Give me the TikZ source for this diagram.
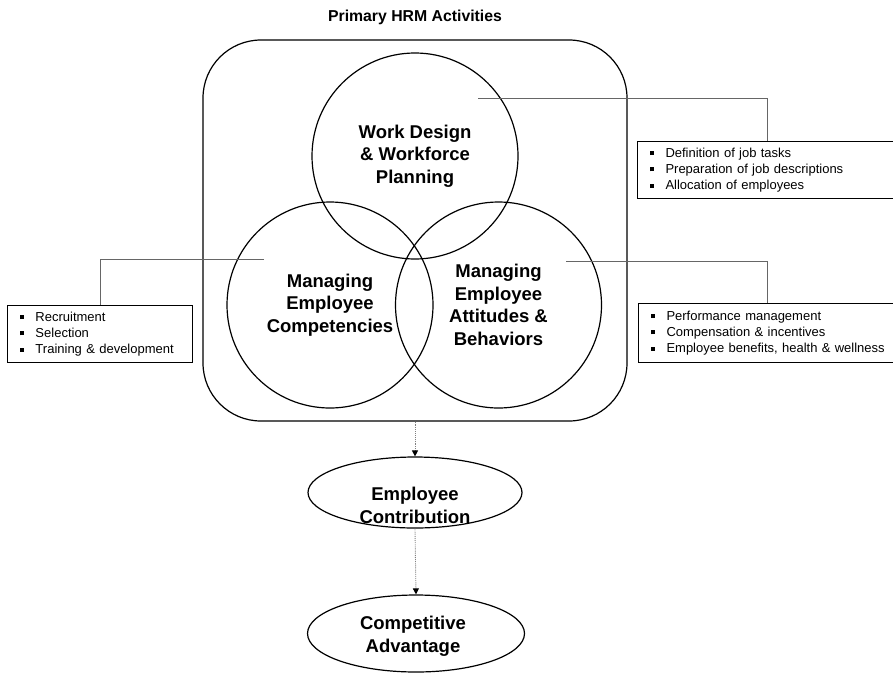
\documentclass[tikz,border=0pt]{standalone}
\usepackage{fontspec}
\setmainfont{Liberation Sans}
\usetikzlibrary{arrows.meta,shapes.geometric}
\newcommand{\sqb}{\makebox[16pt][l]{\rule[2pt]{4pt}{4pt}}}
\begin{document}
\begin{tikzpicture}[x=1pt,y=-1pt,
  circ/.style={circle,draw,line width=1.2pt,minimum size=206pt,inner sep=0pt,align=center,font=\fontsize{18.5}{22.5}\selectfont\bfseries},
  conn/.style={draw=gray!80!black,line width=0.8pt},
  listbox/.style={draw,line width=1pt,anchor=north west,inner xsep=12pt,inner ysep=0pt,align=left,font=\fontsize{13}{16.3}\selectfont},
  flow/.style={densely dotted,draw=gray,line width=0.9pt,-{Triangle[black,length=6pt,width=6pt]}},
  oval/.style={ellipse,draw,line width=1.2pt,inner sep=0pt},
  ovaltext/.style={align=center,font=\fontsize{18.5}{23}\selectfont\bfseries}]
\useasboundingbox (0,0) rectangle (893,675);
\node[font=\fontsize{15.8}{18}\selectfont\bfseries] (title) at (415,17) {Primary HRM Activities};
\node[draw,line width=1.2pt,rounded corners=58pt,minimum width=424pt,minimum height=381pt] (frame) at (415,230.5) {};
\node[circ] (wd) at (415,156) {Work Design\\\& Workforce\\Planning};
\node[circ] (mc) at (330,305) {Managing\\Employee\\Competencies};
\node[circ] (ma) at (498.5,305) {Managing\\Employee\\Attitudes \&\\Behaviors};
\node[listbox,minimum width=260pt,minimum height=57pt,text width=236pt] (b1) at (637,141) {\sqb Definition of job tasks\\\sqb Preparation of job descriptions\\\sqb Allocation of employees};
\node[listbox,minimum width=185pt,minimum height=57pt,text width=161pt] (b2) at (7,305) {\sqb Recruitment\\\sqb Selection\\\sqb Training \& development};
\node[listbox,minimum width=258pt,minimum height=59pt,text width=234pt] (b3) at (638,303) {\sqb Performance management\\\sqb Compensation \& incentives\\\mbox{\sqb Employee benefits, health \& wellness}};
\coordinate (p1) at (478,98);
\coordinate (p2) at (264,259);
\coordinate (p3) at (566,261);
\draw[conn] (p1) -| (b1.north);
\draw[conn] (p2) -| (b2.north);
\draw[conn] (p3) -| (b3.north);
\node[oval,minimum width=214pt,minimum height=71pt] (ec) at (415,492.5) {};
\node[ovaltext] (ect) at (415,505) {Employee\\Contribution};
\node[oval,minimum width=217pt,minimum height=77pt] (ca) at (416,633.5) {};
\node[ovaltext] (cat) at (413,636) {Competitive\\Advantage};
\draw[flow] (frame.south) -- (ec.north);
\draw[flow] (ec.south) -- (ca.north);
\end{tikzpicture}
\end{document}
